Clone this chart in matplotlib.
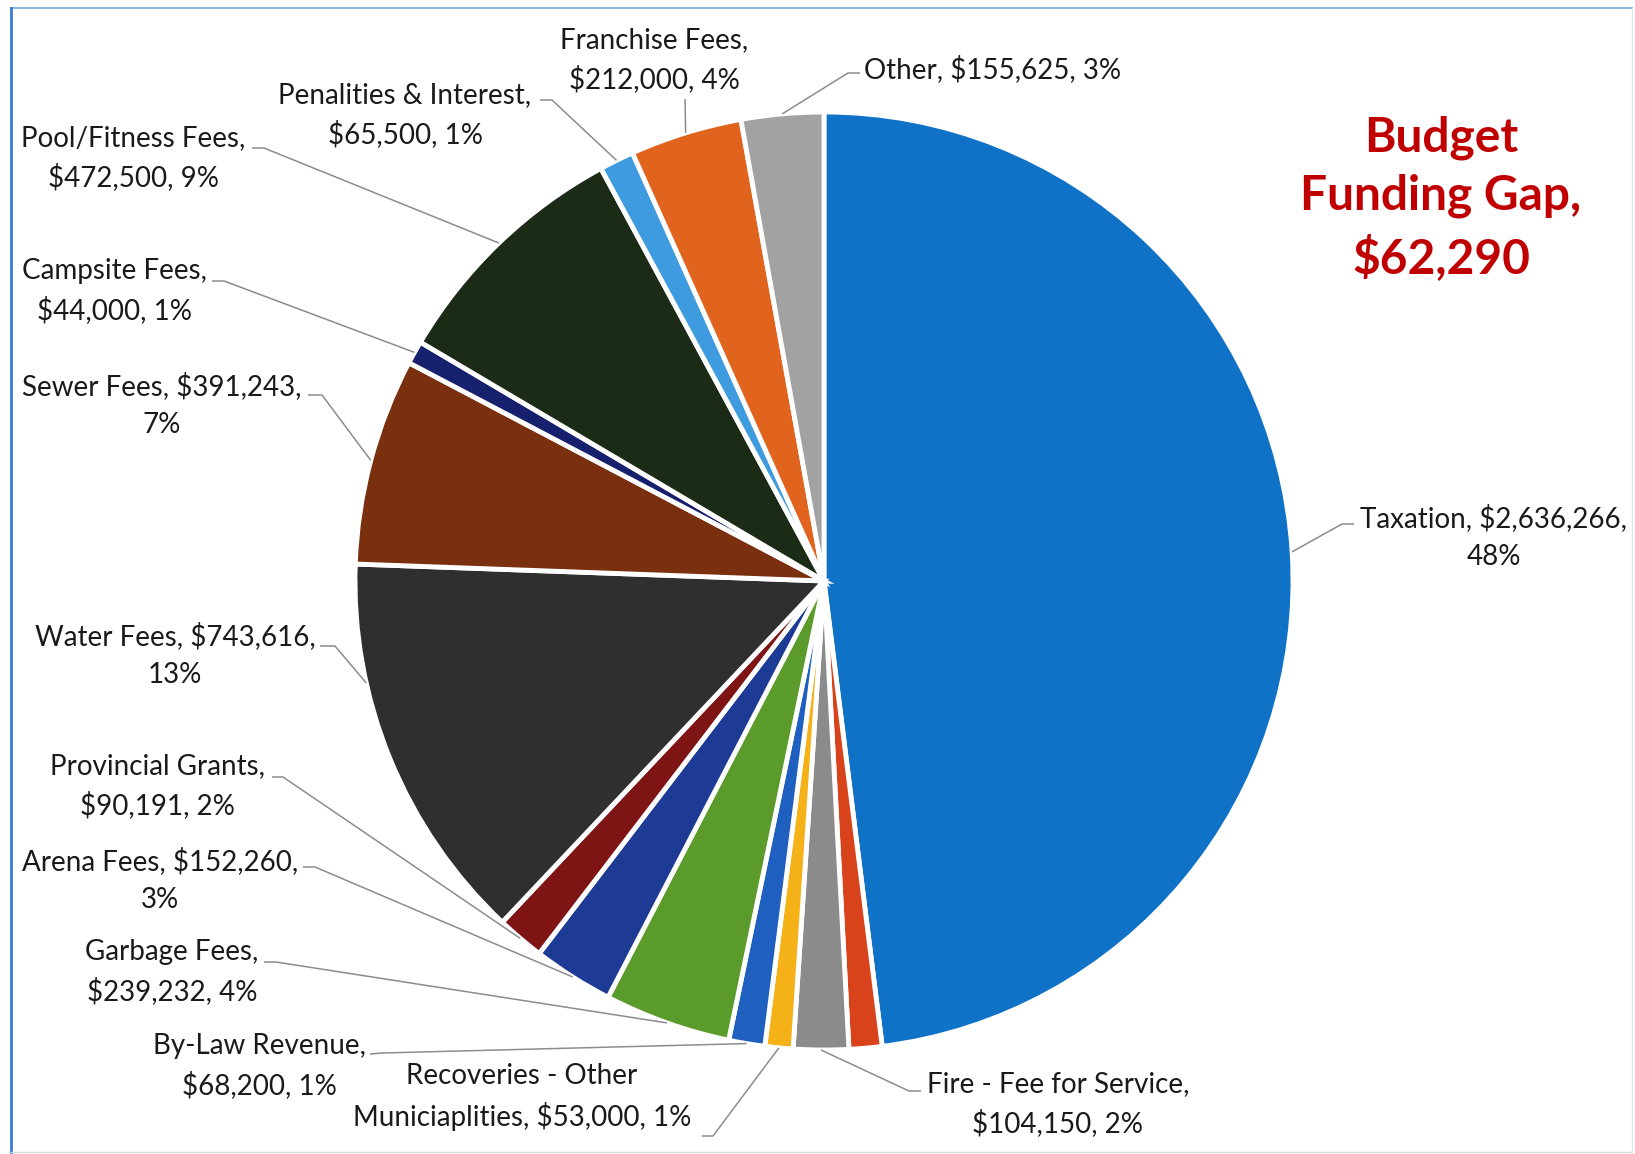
import numpy as np
import matplotlib.pyplot as plt

plt.rcParams['font.family'] = ['Lato', 'DejaVu Sans']

# --- data (clockwise from 12 o'clock) ---
categories = ['Taxation', 'Budget Funding Gap', 'Fire - Fee for Service',
              'Recoveries - Other\nMuniciaplities', 'By-Law Revenue', 'Garbage Fees',
              'Arena Fees', 'Provincial Grants', 'Water Fees', 'Sewer Fees',
              'Campsite Fees', 'Pool/Fitness Fees', 'Penalities & Interest',
              'Franchise Fees', 'Other']
amounts = [2636266, 62290, 104150, 53000, 68200, 239232, 152260, 90191,
           743616, 391243, 44000, 472500, 65500, 212000, 155625]
pct_labels = [48, 1, 2, 1, 1, 4, 3, 2, 13, 7, 1, 9, 1, 4, 3]

colors = ['#0f72c6', '#d8431b', '#8b8b8b', '#f4b118', '#1e5fbf', '#5b9b2b',
          '#1d3b94', '#7e1414', '#2f2f2f', '#7a300f', '#16206c', '#1c2b15',
          '#3f9be0', '#e0631e', '#a2a2a2']

# --- layout (pixels) ---
W, H = 1635, 1154
cx, cy, R = 824, 581, 469

# where the label text goes, how many ", " parts on the first line,
# leader start / elbow, and where along the slice the leader lands
label_layout = {
    0:  dict(xy=(1494, 537), brk=2, lead=[(1354, 524), (1342, 524)], f=0.5),
    2:  dict(xy=(1058, 1104), brk=1, lead=[(921, 1091), (909, 1091)], f=0.5),
    3:  dict(xy=(522, 1097), brk=0, lead=[(702, 1136), (713, 1136)], f=0.5),
    4:  dict(xy=(259, 1066), brk=1, lead=[(370, 1054), (382, 1053)], f=0.5),
    5:  dict(xy=(172, 972), brk=1, lead=[(264, 962), (276, 962)], f=0.5),
    6:  dict(xy=(160, 880), brk=2, lead=[(303, 867), (315, 867)], f=0.5),
    7:  dict(xy=(157, 786), brk=1, lead=[(272, 777), (283, 777)], f=0.5),
    8:  dict(xy=(175, 655), brk=2, lead=[(320, 646), (335, 646)], f=0.7),
    9:  dict(xy=(162, 405), brk=2, lead=[(308, 395), (322, 395)], f=0.5),
    10: dict(xy=(114, 291), brk=1, lead=[(212, 281), (224, 281)], f=0.5),
    11: dict(xy=(133, 158), brk=1, lead=[(252, 148), (264, 148)], f=0.5),
    12: dict(xy=(405, 115), brk=1, lead=[(540, 100), (552, 100)], f=0.5),
    13: dict(xy=(654, 60), brk=1, lead=[(685, 99)], f=0.5),
    14: dict(xy=(864, 69), brk=None, lead=[(860, 73), (848, 73)], f=0.5, ha='left'),
}

fig = plt.figure(figsize=(W / 100, H / 100), dpi=100)
ax = fig.add_axes([0, 0, 1, 1])

# y is flipped below, so counterclock=True draws clockwise on screen
wedges, _ = ax.pie(amounts, colors=colors, startangle=-90, counterclock=True,
                   center=(cx, cy), radius=R, frame=True,
                   wedgeprops=dict(edgecolor='white', linewidth=3.5))
ax.set_xlim(0, W)
ax.set_ylim(H, 0)   # pixel coords, y down
ax.axis('off')

total = float(sum(amounts))
start = np.concatenate([[0], np.cumsum(amounts)[:-1]]) / total

for i, lay in label_layout.items():
    frac = amounts[i] / total
    phi = 2 * np.pi * (start[i] + lay['f'] * frac)   # clockwise from top
    px = cx + R * np.sin(phi)
    py = cy - R * np.cos(phi)

    parts = [categories[i], f"${amounts[i]:,}", f"{pct_labels[i]}%"]
    if lay['brk'] in (None, 0):
        txt = ", ".join(parts)
    else:
        txt = ", ".join(parts[:lay['brk']]) + ",\n" + ", ".join(parts[lay['brk']:])

    ax.text(lay['xy'][0], lay['xy'][1], txt, ha=lay.get('ha', 'center'),
            va='center', multialignment='center', fontsize=20,
            color='#1a1a1a', linespacing=1.55)

    xs, ys = zip(*(lay['lead'] + [(px, py)]))
    ax.plot(xs, ys, color='#8c8c8c', lw=1.1, solid_capstyle='butt')

# funding gap callout
gap = categories.index('Budget Funding Gap')
ax.text(1441, 198, f"Budget\nFunding Gap,\n${amounts[gap]:,}", ha='center',
        va='center', fontsize=34.5, fontweight='bold', color='#c00000',
        linespacing=1.4)

# outer frame: blue top/left, faint grey right/bottom
ax.plot([11, 1632], [8, 8], color='#8ab8e0', lw=1.5)
ax.plot([11, 11], [8, 1152], color='#3a78d8', lw=2)
ax.plot([11, 1632], [1152, 1152], color='#d8d8d8', lw=1)
ax.plot([1632, 1632], [8, 1152], color='#e4e4e4', lw=1)

fig.savefig('out.png', dpi=100, facecolor='white')
